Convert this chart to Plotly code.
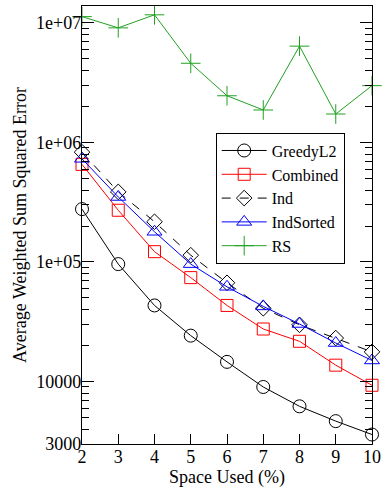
import plotly.graph_objects as go

space = [2, 3, 4, 5, 6, 7, 8, 9, 10]
greedy_l2 = [2.77e5, 9.6e4, 4.33e4, 2.42e4, 1.46e4, 9.0e3, 6.2e3, 4.66e3, 3.6e3]
combined = [6.56e5, 2.71e5, 1.22e5, 7.4e4, 4.33e4, 2.75e4, 2.17e4, 1.37e4, 9.3e3]
ind = [8.3e5, 3.86e5, 2.17e5, 1.14e5, 6.7e4, 4.1e4, 2.98e4, 2.31e4, 1.77e4]
ind_sorted = [7.3e5, 3.5e5, 1.79e5, 9.6e4, 6.2e4, 4.25e4, 3.03e4, 2.1e4, 1.5e4]
rs = [1.13e7, 9.1e6, 1.17e7, 4.6e6, 2.46e6, 1.87e6, 6.4e6, 1.73e6, 2.99e6]

y_tickvals = [3000, 10000, 1e5, 1e6, 1e7]
y_ticktext = ["3000", "10000", "1e+05", "1e+06", "1e+07"]
y_minor = [4000, 5000, 6000, 7000, 8000, 9000,
           20000, 30000, 40000, 50000, 60000, 70000, 80000, 90000,
           2e5, 3e5, 4e5, 5e5, 6e5, 7e5, 8e5, 9e5,
           2e6, 3e6, 4e6, 5e6, 6e6, 7e6, 8e6, 9e6]

GREEN = "#22a022"
series = [
    ("GreedyL2", greedy_l2, "black", "circle-open", 13, "solid"),
    ("Combined", combined, "red", "square-open", 12, "solid"),
    ("Ind", ind, "black", "diamond-open", 12, "dash"),
    ("IndSorted", ind_sorted, "blue", "triangle-up-open", 13, "solid"),
    ("RS", rs, GREEN, "cross-thin-open", 14, "solid"),
]

fig = go.Figure()
for name, vals, col, sym, sz, dash in series:
    fig.add_trace(go.Scatter(
        x=space, y=vals, name=name, mode="lines+markers",
        line=dict(color=col, width=1, dash=dash),
        marker=dict(symbol=sym, size=sz, color=col, line=dict(color=col, width=1)),
        cliponaxis=False,
    ))

font = dict(family="Liberation Serif, Times New Roman, serif", size=18, color="black")

fig.update_layout(
    width=386, height=491,
    margin=dict(l=82, r=9, t=5, b=47),
    paper_bgcolor="white", plot_bgcolor="white",
    font=font,
    showlegend=True,
    legend=dict(
        x=0.461, y=0.711, xanchor="left", yanchor="top",
        bordercolor="black", borderwidth=1, bgcolor="white",
        font=dict(family=font["family"], size=16, color="black"),
        itemwidth=45, tracegroupgap=0,
    ),
    xaxis=dict(
        range=[2, 10], tickmode="array", tickvals=space,
        ticktext=[str(v) for v in space],
        ticks="inside", ticklen=10, tickwidth=1, tickcolor="black",
        showline=True, linecolor="black", linewidth=1.3, mirror=True,
        showgrid=False, zeroline=False, ticklabelstandoff=-4,
        title=dict(text="Space Used (%)", standoff=2, font=font),
        tickfont=font,
    ),
    yaxis=dict(
        type="log", range=[3.4771, 7.142],
        tickmode="array", tickvals=y_tickvals, ticktext=y_ticktext,
        ticks="inside", ticklen=12, tickwidth=1, tickcolor="black",
        minor=dict(tickmode="array", tickvals=y_minor, ticks="inside",
                   ticklen=7, tickwidth=1, tickcolor="black", showgrid=False),
        showline=True, linecolor="black", linewidth=1.3, mirror="ticks",
        showgrid=False, zeroline=False, ticklabelstandoff=-4,
        title=dict(text="Average Weighted Sum Squared Error", standoff=4, font=font),
        tickfont=font,
    ),
)

fig.write_html("out.html")
